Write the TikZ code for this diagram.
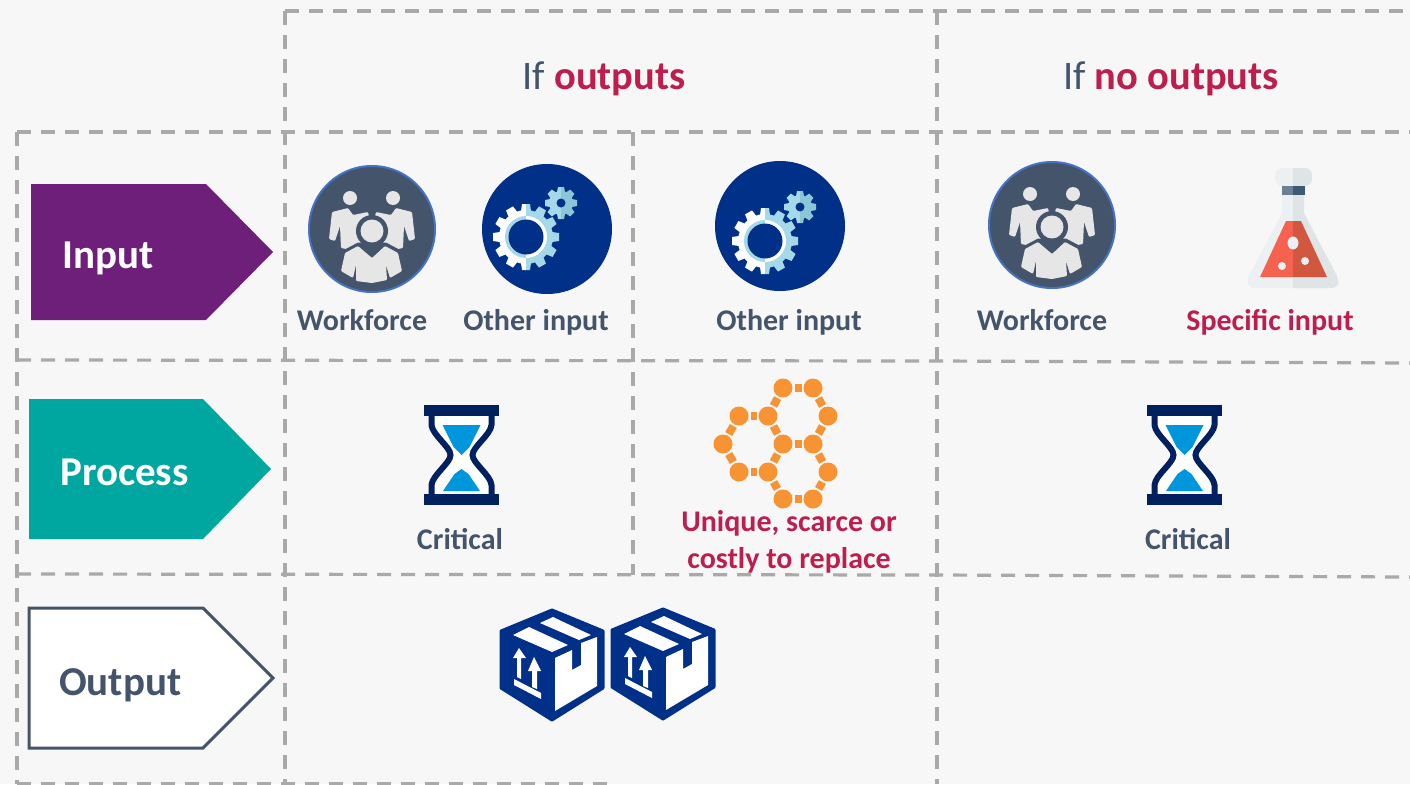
\documentclass[tikz,border=0pt]{standalone}
\usepackage{fontspec}
\setmainfont{Carlito}
\usepackage{tikz}
\usetikzlibrary{positioning}
\definecolor{pagegrey}{HTML}{F7F7F7}
\definecolor{gridgrey}{HTML}{A9A9A9}
\definecolor{slate}{HTML}{44546A}
\definecolor{crimson}{HTML}{BE1E4D}
\definecolor{plum}{HTML}{6D1F7A}
\definecolor{teal2}{HTML}{00A6A0}
\definecolor{navy}{HTML}{003087}
\definecolor{darknavy}{HTML}{002060}
\definecolor{skyblue}{HTML}{0096DC}
\definecolor{paleblue}{HTML}{A5D8E8}
\definecolor{midblue}{HTML}{8CC4D8}
\definecolor{ringblue}{HTML}{4472C4}
\definecolor{personGrey}{HTML}{E7E6E6}
\definecolor{hexorange}{HTML}{F79333}
\definecolor{glassleft}{HTML}{ECF0F2}
\definecolor{glassright}{HTML}{DFE4E6}
\definecolor{bandleft}{HTML}{6A8094}
\definecolor{bandright}{HTML}{3C5A74}
\definecolor{liquidleft}{HTML}{F5624F}
\definecolor{liquidright}{HTML}{D1573F}
\newcommand{\gearwheel}[6]{%
\fill[#3] (0,0) circle (#2);
\foreach \a in {#4} \fill[#3, rotate=\a] (#2-1,-#5) -- (#1,-#6) -- (#1,#6) -- (#2-1,#5) -- cycle;
}
\begin{document}
\begin{tikzpicture}
[x=1pt, y=-1pt,
gridline/.style={gridgrey, line width=3.2pt, dash pattern=on 14pt off 10pt},
tag/.style={text=slate, anchor=base, font=\fontsize{30}{32}\selectfont\bfseries},
tagred/.style={text=crimson, anchor=base, font=\fontsize{30}{32}\selectfont\bfseries},
heading/.style={text=slate, anchor=base, font=\fontsize{40.5}{44}\selectfont},
stagetext/.style={font=\fontsize{41}{44}\selectfont\bfseries, anchor=base west, inner sep=0pt},
bond/.style={hexorange, line width=8pt, shorten >=2pt, shorten <=2pt},
hexdot/.style={circle, fill=hexorange, minimum size=19pt, inner sep=0pt, outer sep=0pt},
workforce/.pic={
\fill[slate] (0,0) circle (63);
\draw[ringblue, line width=2pt] (0,0) circle (63);
\fill[personGrey] (-22,-31) circle (7);
\fill[personGrey] (21,-31) circle (7);
\fill[personGrey, rounded corners=1pt] (-40,-17) -- (-24,-21) -- (-19,-14) -- (-4,-17) -- (0,0) -- (0,25) -- (-31,19) -- (-32,-3) -- (-37,12) -- (-43,10) -- cycle;
\fill[personGrey, rounded corners=1pt] (40,-17) -- (24,-21) -- (19,-14) -- (4,-17) -- (0,0) -- (0,25) -- (31,19) -- (32,-3) -- (37,12) -- (43,10) -- cycle;
\fill[slate] (0,2) circle (16);
\fill[slate] (-34,44) -- (-30,22) -- (-14,13.5) -- (14,13.5) -- (30,22) -- (34,44) -- cycle;
\fill[personGrey] (0,2) circle (11.5);
\fill[personGrey, rounded corners=1pt] (-31,42) -- (-27,24) -- (-14,17) -- (0,29) -- (13,17) -- (26,24) -- (30,42) -- (18,49) -- (14,36) -- (15,51) -- (0,54) -- (-16,52) -- (-16,36) -- (-19,49) -- cycle;
},
gears/.pic={
\begin{scope}
\clip (-40,-40) rectangle (0,40);
\gearwheel{33}{27}{white}{0,30,...,330}{5}{4}
\fill[paleblue] (0,0) circle (21);
\end{scope}
\begin{scope}
\clip (0,-40) rectangle (40,40);
\gearwheel{33}{27}{paleblue}{0,30,...,330}{5}{4}
\fill[white] (0,0) circle (21);
\end{scope}
\fill[navy] (0,0) circle (17.5);
\begin{scope}[shift={(35,-34)}]
\begin{scope}
\clip (-20,-20) rectangle (0,20);
\gearwheel{16}{12}{paleblue}{0,45,...,315}{4}{3}
\end{scope}
\begin{scope}
\clip (0,-20) rectangle (20,20);
\gearwheel{16}{12}{midblue}{0,45,...,315}{4}{3}
\end{scope}
\fill[navy] (0,0) circle (4.5);
\end{scope}
},
hourglass/.pic={
\fill[white] (-30,-39) -- (-30,-30) .. controls (-29,-20) and (-11,-8) .. (-11,0) .. controls (-11,8) and (-29,20) .. (-30,30) -- (-30,39) -- (30,39) -- (30,30) .. controls (29,20) and (11,8) .. (11,0) .. controls (11,-8) and (29,-20) .. (30,-30) -- (30,-39) -- cycle;
\draw[darknavy, line width=6pt] (-30,-39) -- (-30,-30) .. controls (-29,-20) and (-11,-8) .. (-11,0) .. controls (-11,8) and (-29,20) .. (-30,30) -- (-30,39);
\draw[darknavy, line width=6pt] (30,-39) -- (30,-30) .. controls (29,-20) and (11,-8) .. (11,0) .. controls (11,8) and (29,20) .. (30,30) -- (30,39);
\fill[darknavy] (-37.5,-50) rectangle (37.5,-39);
\fill[darknavy] (-37.5,39) rectangle (37.5,50);
\fill[skyblue] (-19,-30) -- (19,-30) -- (8,-8) -- (0,0) -- (-8,-8) -- cycle;
\fill[skyblue] (0,14) -- (7,19) -- (18.5,36) -- (-18.5,36) -- (-7,19) -- cycle;
},
flask/.pic={
\fill[glassleft] (-11,45) -- (-11,27) -- (0,27) -- (0,120) -- (-38,120) .. controls (-46,120) and (-47,114) .. (-44,108) -- cycle;
\fill[glassright] (11,45) -- (11,27) -- (0,27) -- (0,120) -- (38,120) .. controls (46,120) and (47,114) .. (44,108) -- cycle;
\fill[glassleft, rounded corners=7pt] (-18,0) rectangle (3,18);
\fill[glassright, rounded corners=7pt] (-3,0) rectangle (19,18);
\fill[glassleft] (-3,0) rectangle (0,18);
\fill[glassright] (0,0) rectangle (3,18);
\fill[bandleft] (-11,18) rectangle (0,27);
\fill[bandright] (0,18) rectangle (12,27);
\fill[liquidleft] (-7,53) -- (0,53) -- (0,109) -- (-33,109) -- cycle;
\fill[liquidright] (8,53) -- (0,53) -- (0,109) -- (34,109) -- cycle;
\fill[glassleft] (0,75) ellipse (5.5 and 6.5);
\fill[glassleft] (-11,98) circle (4);
\fill[glassleft] (12,93) circle (4);
},
parcel/.pic={
\fill[navy, draw=navy, line width=3pt, line join=round] (0,-55) -- (51,-34) -- (51,23) -- (0,55) -- (-51,23) -- (-51,-34) -- cycle;
\fill[white] (-39,-30) -- (-23,-38) -- (16,-20) -- (0,-13) -- cycle;
\fill[white] (-12,-42) -- (1,-48) -- (39,-30) -- (27,-25) -- cycle;
\fill[white] (3,-7) -- (20,-15) -- (20,5) -- (29,0) -- (29,-22) -- (45,-28) -- (45,21) -- (3,46) -- cycle;
\fill[white] (-38,14) -- (-11,28) -- (-11,34) -- (-38,20) -- cycle;
\fill[white] (-33,-17) -- (-26,-7) -- (-31,-7) -- (-31,14) -- (-35,12) -- (-35,-7) -- (-39,-7) -- cycle;
\fill[white] (-18,-8) -- (-11,6) -- (-15,6) -- (-15,24) -- (-20,22) -- (-20,6) -- (-24,6) -- cycle;
},
]
\useasboundingbox (0,0) rectangle (1410,784);
\fill[pagegrey] (0,0) rectangle (1410,784);

\draw [gridline] (285,11) -- (1410,11);
\draw [gridline] (17,132) -- (1410,132);
\draw [gridline] (17,360) -- (937,361) -- (1410,363);
\draw [gridline] (17,574) -- (937,575) -- (1410,577);
\draw [gridline] (17,784) -- (610,784);
\draw [gridline] (17,132) -- (17,784);
\draw [gridline] (285,11) -- (285,784);
\draw [gridline] (633,132) -- (633,575);
\draw [gridline] (937,11) -- (937,784);

\fill [plum] (31,184) -- (206,184) -- (273,252) -- (206,320) -- (31,320) -- cycle;
\fill [teal2] (29,399) -- (203,399) -- (271,469) -- (203,539) -- (29,539) -- cycle;
\draw [slate, fill=white, line width=3pt] (29,608) -- (203,608) -- (273,678) -- (203,748) -- (29,748) -- cycle;

\node (input) [stagetext, text=white] at (62,268) {Input};
\node (process) [stagetext, text=white] at (60,485) {Process};
\node (output) [stagetext, text=slate] at (59,695) {Output};

\node (head1) [heading] at (604,89) {If \textcolor{crimson}{\bfseries outputs}};
\node (head2) [heading] at (1171,89) {If \textcolor{crimson}{\bfseries no outputs}};

\fill [navy] (547,229) circle (65);
\fill [navy] (780,226) circle (65);
\pic at (372,229) {workforce};
\pic at (526,237) {gears};
\pic at (765,241) {gears};
\pic at (1052,225) {workforce};
\pic at (1293,168) {flask};
\pic at (461.5,455) {hourglass};
\pic at (1184.5,455) {hourglass};
\pic at (552,665) {parcel};
\pic at (663,664) {parcel};

\node (dot1) [hexdot] at (783,388) {};
\node (dot2) [hexdot] at (813,388) {};
\node (dot3) [hexdot] at (739,416) {};
\node (dot4) [hexdot] at (768,416) {};
\node (dot5) [hexdot] at (828,416) {};
\node (dot6) [hexdot] at (723,444) {};
\node (dot7) [hexdot] at (783,444) {};
\node (dot8) [hexdot] at (813,444) {};
\node (dot9) [hexdot] at (739,472) {};
\node (dot10) [hexdot] at (768,472) {};
\node (dot11) [hexdot] at (828,472) {};
\node (dot12) [hexdot] at (783,499) {};
\node (dot13) [hexdot] at (813,499) {};

\foreach \p/\q in {1/2,4/1,2/5,3/4,6/3,4/7,5/8,7/8,6/9,7/10,8/11,9/10,10/12,11/13,12/13}
\draw [bond] (dot\p) -- (dot\q);

\node (work1) [tag] at (362,330) {Workforce};
\node (other1) [tag] at (536,330) {Other input};
\node (other2) [tag] at (789,330) {Other input};
\node (work2) [tag] at (1042,330) {Workforce};
\node (specific) [tagred] at (1270,330) {Specific input};
\node (crit1) [tag] at (460,549) {Critical};
\node (crit2) [tag] at (1188,549) {Critical};
\node (unique) [tagred] at (789,531) {Unique, scarce or};
\node (costly) [tagred] at (789,568) {costly to replace};
\end{tikzpicture}
\end{document}
